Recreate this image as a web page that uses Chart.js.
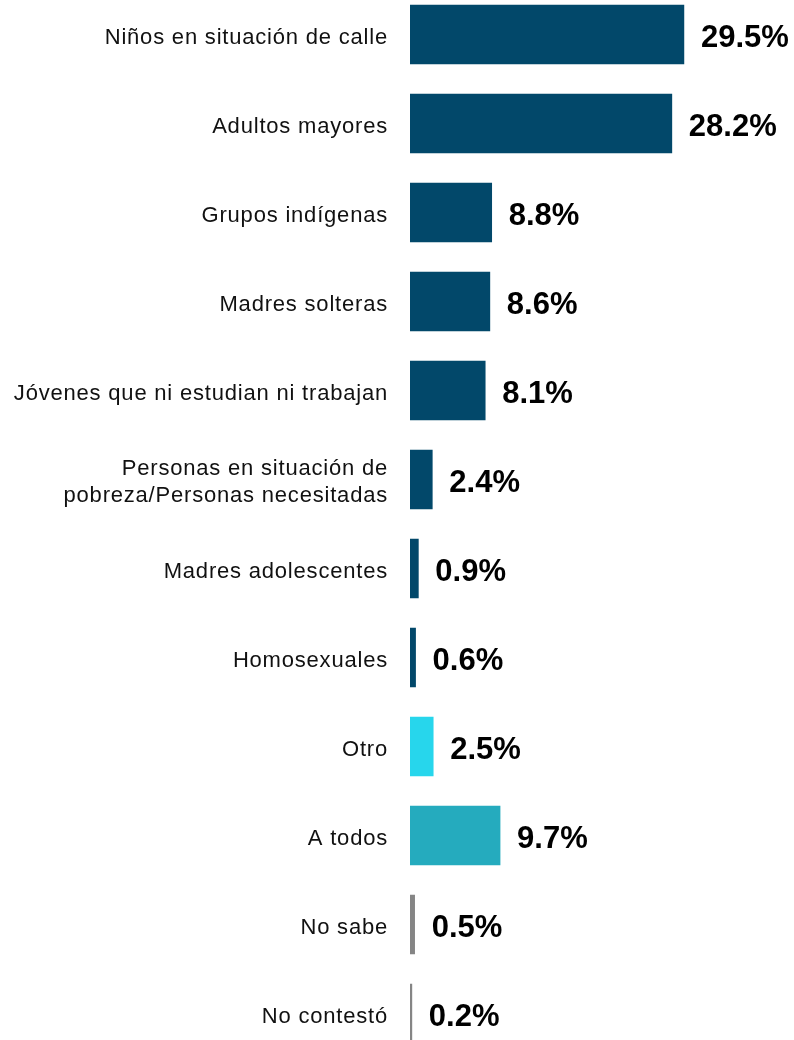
<!DOCTYPE html>
<html>
<head>
<meta charset="utf-8">
<script src="https://cdn.jsdelivr.net/npm/chart.js@4/dist/chart.umd.min.js"></script>
<style>
  html, body { margin: 0; padding: 0; background: #ffffff; overflow: hidden; }
  body { width: 794px; height: 1040px; position: relative; }
  #wrap { position: absolute; left: 0; top: -10px; width: 794px; height: 1068px; }
</style>
</head>
<body>
<div id="wrap"><canvas id="c"></canvas></div>
<script>
const categories = [
  "Niños en situación de calle",
  "Adultos mayores",
  "Grupos indígenas",
  "Madres solteras",
  "Jóvenes que ni estudian ni trabajan",
  ["Personas en situación de", "pobreza/Personas necesitadas"],
  "Madres adolescentes",
  "Homosexuales",
  "Otro",
  "A todos",
  "No sabe",
  "No contestó"
];
const values = [29.5, 28.2, 8.8, 8.6, 8.1, 2.4, 0.9, 0.6, 2.5, 9.7, 0.5, 0.2];
const valueLabels = ["29.5%", "28.2%", "8.8%", "8.6%", "8.1%", "2.4%", "0.9%", "0.6%", "2.5%", "9.7%", "0.5%", "0.2%"];

const NAVY = "#02486a", CYAN = "#27d6ec", TEAL = "#25abbe", GREY = "#858585";
const barColors = [NAVY, NAVY, NAVY, NAVY, NAVY, NAVY, NAVY, NAVY, CYAN, TEAL, GREY, GREY];

const valueLabelPlugin = {
  id: "valueLabels",
  beforeDraw(chart) { chart.ctx.letterSpacing = "0.8px"; },
  afterDatasetsDraw(chart) {
    const ctx = chart.ctx;
    const xs = chart.scales.x, ys = chart.scales.y;
    ctx.save();
    ctx.letterSpacing = "0px";
    ctx.font = "bold 31px 'Liberation Sans', Arial, Helvetica, sans-serif";
    ctx.fillStyle = "#000000";
    ctx.textAlign = "left";
    ctx.textBaseline = "middle";
    values.forEach((v, i) => {
      const x = xs.getPixelForValue(v) + 17;
      const y = ys.getPixelForValue(i) + 4;
      ctx.fillText(valueLabels[i], x, y);
    });
    ctx.restore();
  },
  afterDraw(chart) { chart.ctx.letterSpacing = "0px"; }
};

new Chart(document.getElementById("c"), {
  type: "bar",
  data: {
    labels: categories,
    datasets: [{
      data: values,
      backgroundColor: barColors,
      borderWidth: 0,
      barThickness: 59
    }]
  },
  plugins: [valueLabelPlugin],
  options: {
    indexAxis: "y",
    responsive: true,
    maintainAspectRatio: false,
    animation: false,
    layout: { padding: { left: 0, right: 12.6, top: 0, bottom: 0 } },
    plugins: {
      legend: { display: false },
      tooltip: { enabled: false }
    },
    scales: {
      x: {
        display: false,
        min: 0,
        max: 40
      },
      y: {
        offset: true,
        afterFit(scale) {
          scale.width = 410;
          scale.paddingTop = 0;
          scale.paddingBottom = 0;
        },
        grid: { display: false, drawTicks: false },
        border: { display: false },
        ticks: {
          padding: 22,
          labelOffset: 3,
          color: "#111111",
          font: { family: "'Liberation Sans', Arial, Helvetica, sans-serif", size: 22, lineHeight: 1.25 }
        }
      }
    }
  }
});
</script>
</body>
</html>
